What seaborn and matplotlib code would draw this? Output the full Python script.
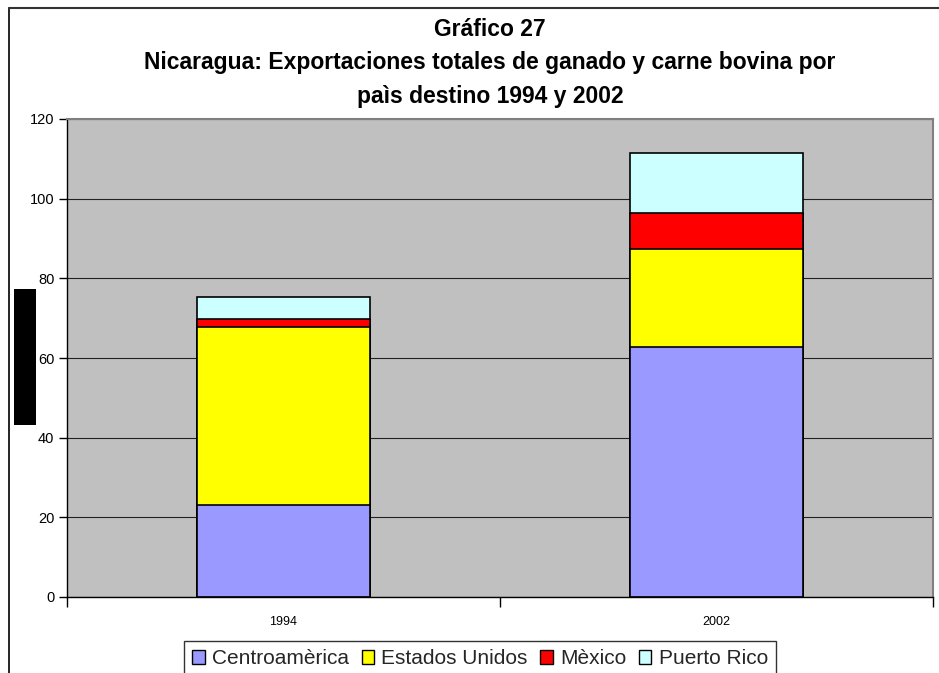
import matplotlib
matplotlib.use("Agg")
import matplotlib.pyplot as plt
import seaborn as sns
import pandas as pd
import numpy as np
from matplotlib.patches import Patch, Rectangle
from matplotlib.lines import Line2D

years = ["1994", "2002"]
series = ["Centroamèrica", "Estados Unidos", "Mèxico", "Puerto Rico"]
centroamerica = [23.1, 62.8]
estados_unidos = [44.8, 24.6]
mexico = [2.0, 9.0]
puerto_rico = [5.5, 15.1]
colors = ["#9999FF", "#FFFF00", "#FF0000", "#CCFFFF"]
title = "Gráfico 27\nNicaragua: Exportaciones totales de ganado y carne bovina por\npaìs destino 1994 y 2002"

sns.set_theme(style="white")
plt.rcParams['font.family'] = ['Liberation Sans', 'DejaVu Sans']

W, H = 939, 673
fig = plt.figure(figsize=(W / 100, H / 100), dpi=100)
ax = fig.add_axes([67 / W, 1 - 597 / H, (933 - 67) / W, (597 - 119) / H])
ax.set_facecolor("#C0C0C0")

vals = np.array([centroamerica, estados_unidos, mexico, puerto_rico])
cum = np.cumsum(vals, axis=0)

rows = []
for i, s in enumerate(series):
    for j, y in enumerate(years):
        rows.append({"year": y, "series": s, "cum": cum[i, j]})
df = pd.DataFrame(rows)

ax.set_axisbelow(True)
ax.yaxis.grid(True, color="#222222", linewidth=0.8)
for i in reversed(range(len(series))):
    sub = df[df["series"] == series[i]]
    sns.barplot(data=sub, x="year", y="cum", order=years, color=colors[i],
                width=0.4, edgecolor="black", linewidth=1.2, saturation=1,
                ax=ax, zorder=2)

ax.set_xlim(-0.5, 1.5)
ax.set_ylim(0, 120)
ax.set_yticks(np.arange(0, 121, 20))
ax.set_xlabel("")
ax.set_ylabel("")
ax.tick_params(axis="y", which="major", direction="out", length=6, width=1,
               color="black", labelsize=10.5, pad=3, left=True)
ax.tick_params(axis="x", which="major", length=0, labelsize=9, pad=14)
ax.set_xticks([-0.5, 0.5, 1.5], minor=True)
ax.tick_params(axis="x", which="minor", direction="out", length=7, width=1,
               color="black", bottom=True)
for lab in ax.get_yticklabels() + ax.get_xticklabels():
    lab.set_color("black")

for side in ["left", "bottom"]:
    ax.spines[side].set_color("black")
    ax.spines[side].set_linewidth(1)
for side in ["top", "right"]:
    ax.spines[side].set_color("#808080")
    ax.spines[side].set_linewidth(1.5)

fig.text(490 / W, 1 - 63 / H, title, ha="center", va="center",
         fontsize=16.5, fontweight="bold", linespacing=1.56, color="black")

handles = [Patch(facecolor=c, edgecolor="black", linewidth=1) for c in colors]
leg = fig.legend(handles, series, loc="upper center",
                 bbox_to_anchor=(480 / W, 1 - 641 / H), ncol=4, fontsize=15,
                 frameon=True, fancybox=False, handlelength=0.6,
                 handleheight=0.6, handletextpad=0.35, columnspacing=0.6,
                 borderpad=0.4, borderaxespad=0)
leg.get_frame().set_edgecolor("black")
leg.get_frame().set_linewidth(1)

# outer chart frame
fig.add_artist(Line2D([9 / W, 9 / W], [0, 1 - 8 / H], transform=fig.transFigure,
                      color="black", linewidth=1.2))
fig.add_artist(Line2D([9 / W, 1], [1 - 8 / H, 1 - 8 / H], transform=fig.transFigure,
                      color="#333333", linewidth=1.5))
# redaction box
fig.add_artist(Rectangle((14 / W, 1 - 425 / H), 22 / W, 136 / H,
                         transform=fig.transFigure, facecolor="black",
                         edgecolor="none"))

fig.savefig("out.png", dpi=100, facecolor="white")
